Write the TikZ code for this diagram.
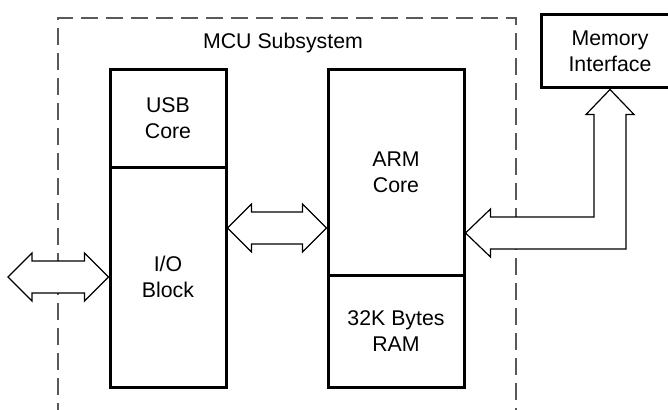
\documentclass[tikz,border=0pt]{standalone}
\usepackage{fontspec}
\setmainfont{Liberation Sans}
\usetikzlibrary{calc}
\begin{document}
\begin{tikzpicture}[x=1pt,y=-1pt,
  blk/.style={draw,line width=3pt,rectangle,inner sep=0pt,align=center,
    font=\fontsize{21.3}{26}\selectfont},
  lbl/.style={inner sep=0pt,align=center,font=\fontsize{21.3}{26}\selectfont},
  fat/.style={draw,line width=1.2pt,fill=white,line join=miter},
  subsys/.style={draw=black!65,line width=1.2pt,dash pattern=on 17pt off 8pt}]
\useasboundingbox (0,0) rectangle (668,409);
\clip (0,0) rectangle (668,409);
% subsystem boundary (open at bottom)
\draw[subsys] (58,420) -- (58,18) -- (516,18) -- (516,420);
\node[lbl] (mcu) at (283,43) {MCU Subsystem};
% blocks
\node[blk,minimum width=116pt,minimum height=97pt] (usb) at (168,118.5) {USB\\Core};
\node[blk,minimum width=116pt,minimum height=220pt] (io) at (168,277) {I/O\\Block};
\node[blk,minimum width=136pt,minimum height=205pt] (arm) at (396,172.5) {ARM\\Core};
\node[blk,minimum width=136pt,minimum height=112pt] (ram) at (396,331) {32K Bytes\\RAM};
\node[blk,minimum width=138pt,minimum height=73pt] (mem) at (610,51.5) {Memory\\Interface};
% left external double arrow
\coordinate (ext) at (8,277);
\draw[fat] (ext) -- ($(ext)+(24,-24)$) -- ($(ext)+(24,-16)$) -- ($(io.west)+(-24,-16)$)
  -- ($(io.west)+(-24,-24)$) -- (io.west) -- ($(io.west)+(-24,24)$) -- ($(io.west)+(-24,16)$)
  -- ($(ext)+(24,16)$) -- ($(ext)+(24,24)$) -- cycle;
% middle double arrow
\coordinate (midy) at (0,228);
\coordinate (ml) at (io.east |- midy);
\coordinate (mr) at (arm.west |- midy);
\draw[fat] (ml) -- ($(ml)+(24,-24)$) -- ($(ml)+(24,-16)$) -- ($(mr)+(-24,-16)$)
  -- ($(mr)+(-24,-24)$) -- (mr) -- ($(mr)+(-24,24)$) -- ($(mr)+(-24,16)$)
  -- ($(ml)+(24,16)$) -- ($(ml)+(24,24)$) -- cycle;
% memory interface bent double arrow
\coordinate (bendy) at (0,233);
\coordinate (at) at (arm.east |- bendy);
\coordinate (mt) at (mem.south);
\draw[fat] (at) -- ($(at)+(25,-24)$) -- ($(at)+(25,-16)$) -- ($(mt |- at)+(-16,-16)$)
  -- ($(mt)+(-16,25)$) -- ($(mt)+(-24,25)$) -- (mt) -- ($(mt)+(24,25)$) -- ($(mt)+(16,25)$)
  -- ($(mt |- at)+(16,16)$) -- ($(at)+(25,16)$) -- ($(at)+(25,24)$) -- cycle;
\end{tikzpicture}
\end{document}
